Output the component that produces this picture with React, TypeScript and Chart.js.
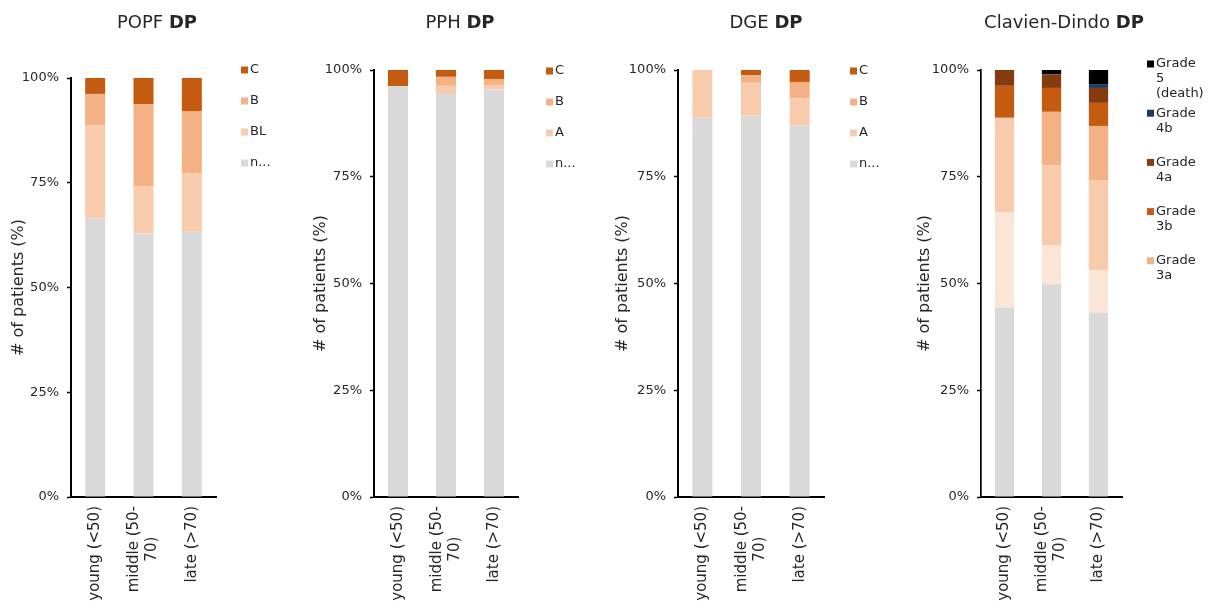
import React, { useEffect, useRef } from 'react';
import { Chart, registerables } from 'chart.js';

Chart.register(...registerables);

const FONT = '"DejaVu Sans", Verdana, sans-serif';
Chart.defaults.font.family = FONT;
Chart.defaults.font.size = 13;

// ---------- data ----------
const categories: string[][] = [['young (<50)'], ['middle (50-', '70)'], ['late (>70)']];
const yTicks = [0, 25, 50, 75, 100];
const yAxisTitle = '# of patients (%)';

// POPF DP
const popfLabels = ['n...', 'BL', 'B', 'C'];
const popfNone = [66.5, 62.9, 63.3];
const popfBL = [22.2, 11.2, 13.9];
const popfB = [7.5, 19.7, 14.9];
const popfC = [3.8, 6.2, 7.9];

// PPH DP
const pphLabels = ['n...', 'A', 'B', 'C'];
const pphNone = [96.25, 94.4, 95.4];
const pphA = [0, 1.9, 1.1];
const pphB = [0, 2.1, 1.4];
const pphC = [3.75, 1.6, 2.1];

// DGE DP
const dgeLabels = ['n...', 'A', 'B', 'C'];
const dgeNone = [88.8, 89.3, 87.0];
const dgeA = [11.2, 7.7, 6.4];
const dgeB = [0, 1.8, 3.8];
const dgeC = [0, 1.2, 2.8];

// Clavien-Dindo DP
const cdLabels = ['none', 'Grade 1', 'Grade 2', 'Grade 3a', 'Grade 3b', 'Grade 4a', 'Grade 4b', 'Grade 5 (death)'];
const cdNone = [44.4, 49.8, 43.1];
const cdG1 = [22.2, 9.2, 10.0];
const cdG2 = [22.2, 18.7, 21.1];
const cdG3a = [0, 12.5, 12.7];
const cdG3b = [7.5, 5.6, 5.4];
const cdG4a = [3.7, 3.2, 3.5];
const cdG4b = [0, 0, 0.9];
const cdG5 = [0, 1.0, 3.3];

// ---------- styles ----------
const C_GRAY = '#d9d9d9';
const C_G1 = '#fbe5d6';
const C_LIGHT = '#f8cbad';
const C_MID = '#f4b183';
const C_DARK = '#c55a11';
const C_BROWN = '#843c0c';
const C_NAVY = '#203864';
const C_BLACK = '#000000';
const TEXT = '#262626';

type Series = { label: string; data: number[]; color: string };
type PanelCfg = {
  titleNormal: string;
  titleBold: string;
  titleX: number;
  series: Series[];
  plotLeft: number;
  plotRight: number;
  plotTop: number;
  plotBottom: number;
  legendX: number;
  legendY: number;
  legendGap: number;
  legendMaxY: number;
  axisWidth: number;
  barPct: number;
};

const W = 302;
const H = 608;

const panels: PanelCfg[] = [
  {
    titleNormal: 'POPF', titleBold: 'DP', titleX: 157,
    series: [
      { label: popfLabels[0], data: popfNone, color: C_GRAY },
      { label: popfLabels[1], data: popfBL, color: C_LIGHT },
      { label: popfLabels[2], data: popfB, color: C_MID },
      { label: popfLabels[3], data: popfC, color: C_DARK },
    ],
    plotLeft: 71, plotRight: 216, plotTop: 78, plotBottom: 497,
    legendX: 241, legendY: 70, legendGap: 31, legendMaxY: 300, axisWidth: 2, barPct: 0.414,
  },
  {
    titleNormal: 'PPH', titleBold: 'DP', titleX: 158,
    series: [
      { label: pphLabels[0], data: pphNone, color: C_GRAY },
      { label: pphLabels[1], data: pphA, color: C_LIGHT },
      { label: pphLabels[2], data: pphB, color: C_MID },
      { label: pphLabels[3], data: pphC, color: C_DARK },
    ],
    plotLeft: 72, plotRight: 216, plotTop: 70, plotBottom: 497,
    legendX: 244, legendY: 71, legendGap: 31, legendMaxY: 300, axisWidth: 2, barPct: 0.416,
  },
  {
    titleNormal: 'DGE', titleBold: 'DP', titleX: 162,
    series: [
      { label: dgeLabels[0], data: dgeNone, color: C_GRAY },
      { label: dgeLabels[1], data: dgeA, color: C_LIGHT },
      { label: dgeLabels[2], data: dgeB, color: C_MID },
      { label: dgeLabels[3], data: dgeC, color: C_DARK },
    ],
    plotLeft: 74, plotRight: 220, plotTop: 70, plotBottom: 497,
    legendX: 246, legendY: 71, legendGap: 31, legendMaxY: 300, axisWidth: 2, barPct: 0.412,
  },
  {
    titleNormal: 'Clavien-Dindo', titleBold: 'DP', titleX: 158,
    series: [
      { label: cdLabels[0], data: cdNone, color: C_GRAY },
      { label: cdLabels[1], data: cdG1, color: C_G1 },
      { label: cdLabels[2], data: cdG2, color: C_LIGHT },
      { label: cdLabels[3], data: cdG3a, color: C_MID },
      { label: cdLabels[4], data: cdG3b, color: C_DARK },
      { label: cdLabels[5], data: cdG4a, color: C_BROWN },
      { label: cdLabels[6], data: cdG4b, color: C_NAVY },
      { label: cdLabels[7], data: cdG5, color: C_BLACK },
    ],
    plotLeft: 75, plotRight: 216, plotTop: 70, plotBottom: 497,
    legendX: 241, legendY: 64, legendGap: 49.2, legendMaxY: 290, axisWidth: 1.7, barPct: 0.41,
  },
];

function wrapText(ctx: CanvasRenderingContext2D, text: string, maxW: number): string[] {
  const words = text.split(' ');
  const lines: string[] = [];
  let cur = '';
  for (const w of words) {
    const test = cur ? cur + ' ' + w : w;
    if (cur && ctx.measureText(test).width > maxW) {
      lines.push(cur);
      cur = w;
    } else {
      cur = test;
    }
  }
  if (cur) lines.push(cur);
  return lines;
}

function makeOverlay(cfg: PanelCfg) {
  return {
    id: 'overlay',
    afterDraw(chart: any) {
      const ctx: CanvasRenderingContext2D = chart.ctx;
      ctx.save();
      ctx.fillStyle = TEXT;

      // title (normal + bold)
      ctx.textBaseline = 'alphabetic';
      ctx.textAlign = 'left';
      ctx.font = `18px ${FONT}`;
      const t1 = cfg.titleNormal + ' ';
      const w1 = ctx.measureText(t1).width;
      ctx.font = `bold 18px ${FONT}`;
      const w2 = ctx.measureText(cfg.titleBold).width;
      const sx = cfg.titleX - (w1 + w2) / 2;
      ctx.font = `18px ${FONT}`;
      ctx.fillText(t1, sx, 28);
      ctx.font = `bold 18px ${FONT}`;
      ctx.fillText(cfg.titleBold, sx + w1, 28);

      // category labels (rotated, right-aligned block, lines centered)
      const xs = chart.scales.x;
      ctx.font = `15px ${FONT}`;
      const lh = 18;
      categories.forEach((lines, i) => {
        const px = xs.getPixelForValue(i);
        const maxW = Math.max(...lines.map((l) => ctx.measureText(l).width));
        ctx.save();
        ctx.translate(px, chart.chartArea.bottom + 9);
        ctx.rotate(-Math.PI / 2);
        ctx.textAlign = 'center';
        ctx.textBaseline = 'middle';
        lines.forEach((l, j) => {
          ctx.fillText(l, -maxW / 2, (j - (lines.length - 1) / 2) * lh);
        });
        ctx.restore();
      });

      // legend (reverse order, top = last series)
      ctx.font = `13px ${FONT}`;
      ctx.textAlign = 'left';
      ctx.textBaseline = 'middle';
      const textX = cfg.legendX + 9;
      const wrapW = 48;
      const lineH = 15;
      let y = cfg.legendY;
      const rev = [...cfg.series].reverse();
      for (const s of rev) {
        const lines = wrapText(ctx, s.label, wrapW);
        if (y + (lines.length - 1) * lineH > cfg.legendMaxY) break;
        ctx.fillStyle = s.color;
        ctx.fillRect(cfg.legendX, y - 3.5, 7, 7);
        ctx.fillStyle = TEXT;
        lines.forEach((l, j) => ctx.fillText(l, textX, y + j * lineH));
        y += cfg.legendGap;
      }
      ctx.restore();
    },
  };
}

function Panel({ cfg }: { cfg: PanelCfg }) {
  const ref = useRef<HTMLCanvasElement | null>(null);
  useEffect(() => {
    if (!ref.current) return;
    const chart = new Chart(ref.current, {
      type: 'bar',
      data: {
        labels: categories.map((c) => c.join(' ')),
        datasets: cfg.series.map((s) => ({
          label: s.label,
          data: s.data,
          backgroundColor: s.color,
          borderWidth: 0,
          categoryPercentage: 1,
          barPercentage: cfg.barPct,
        })),
      },
      options: {
        responsive: false,
        animation: false,
        events: [],
        layout: {
          padding: { left: 0, right: W - cfg.plotRight, top: cfg.plotTop, bottom: 0 },
        },
        plugins: {
          legend: { display: false },
          title: { display: false },
          tooltip: { enabled: false },
        },
        scales: {
          x: {
            stacked: true,
            offset: true,
            grid: { display: false },
            ticks: { display: false },
            border: { display: true, color: '#000', width: 2 },
            afterFit: (s: any) => {
              s.height = H - cfg.plotBottom;
            },
          },
          y: {
            stacked: true,
            min: 0,
            max: 100,
            afterBuildTicks: (s: any) => {
              s.ticks = yTicks.map((v) => ({ value: v }));
            },
            ticks: {
              callback: (v: any) => v + '%',
              font: { size: 13, family: FONT },
              color: TEXT,
              padding: 8,
            },
            grid: {
              display: true,
              drawOnChartArea: false,
              drawTicks: true,
              tickLength: 4,
              color: '#000',
              tickWidth: 1.5,
            },
            border: { display: true, color: '#000', width: cfg.axisWidth },
            title: {
              display: true,
              text: yAxisTitle,
              color: TEXT,
              font: { size: 16, family: FONT },
              padding: { top: 9, bottom: 0 },
            },
            afterFit: (s: any) => {
              s.width = cfg.plotLeft;
            },
          },
        },
      },
      plugins: [makeOverlay(cfg)],
    } as any);
    return () => chart.destroy();
  }, [cfg]);
  return <canvas ref={ref} width={W} height={H} style={{ display: 'block', width: W, height: H }} />;
}

export default function App() {
  return (
    <div
      style={{
        position: 'absolute',
        left: 0,
        top: 0,
        width: W * 4,
        height: H,
        display: 'flex',
        background: '#fff',
        overflow: 'hidden',
      }}
    >
      {panels.map((p, i) => (
        <Panel key={i} cfg={p} />
      ))}
    </div>
  );
}
